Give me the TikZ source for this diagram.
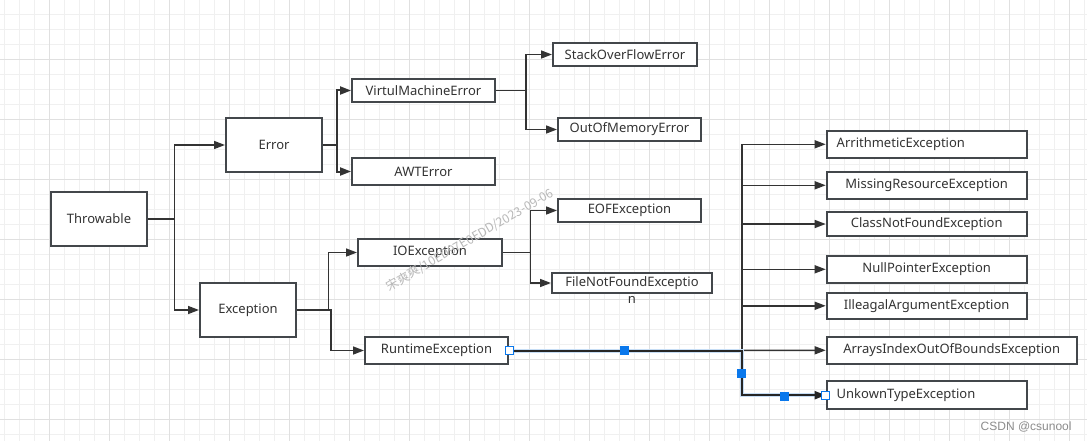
\documentclass[tikz,border=0pt]{standalone}
\usepackage{fontspec}
\setmainfont{Noto Sans}
\newfontfamily\cjkfont{Noto Sans CJK SC}
\newfontfamily\csdnfont{Liberation Sans}
\usetikzlibrary{arrows.meta}
\definecolor{boxline}{HTML}{43474B}
\definecolor{txtcol}{HTML}{333333}
\definecolor{gridminor}{HTML}{F0F0F0}
\definecolor{gridmajor}{HTML}{E0E0E0}
\definecolor{selblue}{HTML}{0A78EC}
\definecolor{glow}{HTML}{C6DDF5}
\tikzset{
  box/.style={draw=boxline, line width=2pt, fill=white, inner sep=0pt, text=txtcol,
    font=\fontsize{13}{15}\selectfont},
  leftbox/.style={box, text width=180pt, inner xsep=10pt, align=left},
  conn/.style={draw=txtcol, line width=1.5pt, -{Triangle[length=11pt,width=8pt]}},
  thick conn/.style={conn, line width=2pt},
  plainline/.style={draw=txtcol, line width=1.8pt},
  handleopen/.style={draw=selblue, fill=white, line width=1pt, minimum size=8pt, inner sep=0pt},
  handlefill/.style={fill=selblue, minimum size=9pt, inner sep=0pt},
}
\begin{document}
\begin{tikzpicture}[x=1pt,y=-1pt]
\useasboundingbox (0,0) rectangle (1087,441);
\fill[white] (0,0) rectangle (1087,441);
% grid
\foreach \i in {0,...,72} \draw[gridminor, line width=1pt] (4.3+15*\i,0) -- ++(0,441);
\foreach \i in {0,...,29} \draw[gridminor, line width=1pt] (0,14.3+15*\i) -- ++(1087,0);
\foreach \i in {0,...,18} \draw[gridmajor, line width=1pt] (-10.7+60*\i,0) -- ++(0,441);
\foreach \i in {1,...,7} \draw[gridmajor, line width=1pt] (0,-0.7+60*\i) -- ++(1087,0);

% nodes
\node[box, minimum width=96pt, minimum height=54pt] (thr) at (99,219) {Throwable};
\node[box, minimum width=96pt, minimum height=54pt] (err) at (274,145) {Error};
\node[box, minimum width=96pt, minimum height=54pt] (exc) at (248,310) {Exception};
\node[box, minimum width=143pt, minimum height=23pt] (vme) at (423.5,90.5) {VirtulMachineError};
\node[box, minimum width=143pt, minimum height=27pt] (awt) at (423.5,171.5) {AWTError};
\node[box, minimum width=144pt, minimum height=23pt] (so) at (625,54.5) {StackOverFlowError};
\node[box, minimum width=143pt, minimum height=23pt] (oom) at (629.5,129.5) {OutOfMemoryError};
\node[box, minimum width=143pt, minimum height=23pt] (eof) at (629.5,210.5) {EOFException};
\node[box, minimum width=144pt, minimum height=27pt] (ioe) at (430,252.5) {IOException};
\node[box, minimum width=160pt, minimum height=20.5pt] (fnf) at (632,283) {};
\node[text=txtcol, font=\fontsize{13}{17}\selectfont, align=center, inner sep=0pt, anchor=north] (fnftext) at (632,276) {FileNotFoundExceptio\\n};
\node[box, minimum width=143pt, minimum height=27pt] (rte) at (436.5,350.5) {RuntimeException};

\node[leftbox, minimum height=26.7pt] (ari) at (926.7,144.3) {ArrithmeticException};
\node[box, minimum width=200pt, minimum height=27.3pt] (mis) at (926.7,185.3) {MissingResourceException};
\node[box, minimum width=200pt, minimum height=24pt] (cnf) at (926.7,224) {ClassNotFoundException};
\node[box, minimum width=200pt, minimum height=26.7pt] (npe) at (926.7,269.3) {NullPointerException};
\node[box, minimum width=200pt, minimum height=26.3pt] (iae) at (926.7,305.8) {IlleagalArgumentException};
\node[box, minimum width=250pt, minimum height=27.3pt] (aio) at (951.7,350.3) {ArraysIndexOutOfBoundsException};
\node[leftbox, minimum height=28.3pt] (unk) at (926.7,395.2) {UnkownTypeException};

% connectors
\draw[conn] (thr.east) -- ++(26.3,0) |- (err.west);
\draw[conn] (thr.east) -- ++(26.3,0) |- (exc.west);
\draw[thick conn] (err.east) -- ++(14,0) |- (vme.west);
\draw[thick conn] (err.east) -- ++(14,0) |- (awt.west);
\draw[conn] (vme.east) -- ++(30,0) |- (so.west);
\draw[conn] (vme.east) -- ++(30,0) |- (oom.west);
\draw[conn] (ioe.east) -- ++(27.5,0) |- (eof.west);
\draw[conn] (ioe.east) -- ++(27.5,0) |- (fnf.west);
\draw[conn] (exc.east) -- ++(31.3,0) |- (ioe.west);
\draw[conn] (exc.east) -- ++(34,0) |- (rte.west);

\coordinate (bus) at (741.7,350.5);
\coordinate (bustop) at (741.7,144.3);
\draw[plainline] (bus) -- (bustop);
\foreach \n in {ari,mis,cnf,npe,iae} \draw[conn] (bustop |- \n.west) -- (\n.west);
\draw[conn] (bus) -- (aio.west);

% selected connector
\draw[glow, line width=4pt] (rte.east) -- (bus) |- (unk.west);
\draw[conn, draw=black!85, line width=2pt] (rte.east) -- (bus) |- (unk.west);
\node[handleopen] (h1) at (rte.east) {};
\node[handleopen] (h2) at (unk.west) {};
\node[handlefill] (h3) at (624,350.5) {};
\node[handlefill] (h4) at (741.7,373) {};
\node[handlefill] (h5) at (784,396) {};

% watermark
\node[text=black!28, rotate=30, font=\cjkfont\fontsize{12.3}{14}\selectfont, inner sep=0pt] (wm) at (470,240) {宋爽爽/10ED97E0EDD/2023-09-06};
\node[text=black!45, font=\csdnfont\fontsize{12}{14}\selectfont, anchor=west, inner sep=0pt] (csdn) at (980.5,426.7) {CSDN @csunool};
\end{tikzpicture}
\end{document}
